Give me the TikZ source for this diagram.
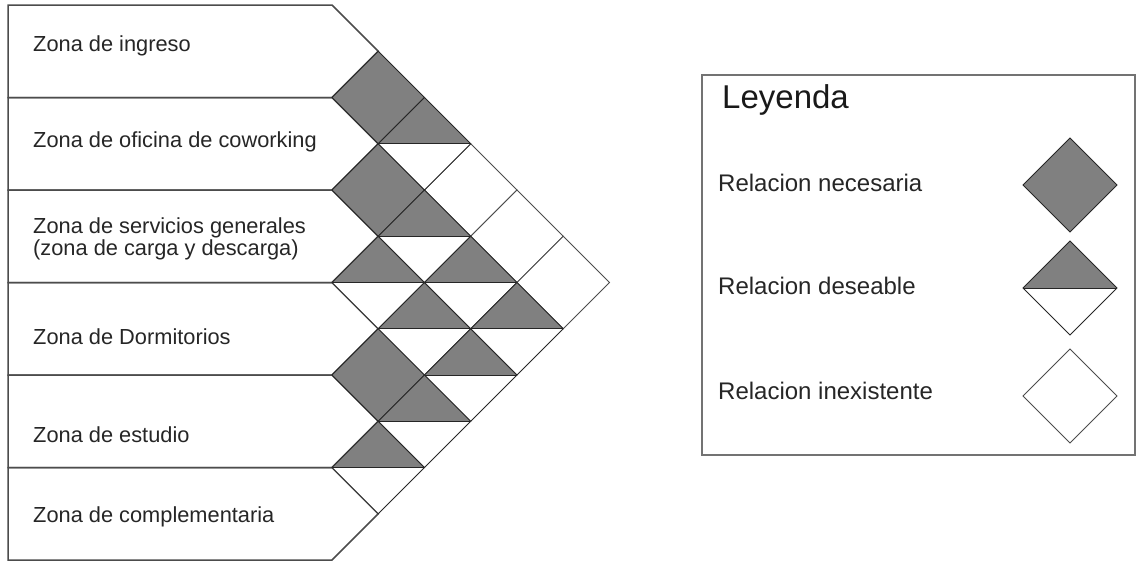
\documentclass[tikz,border=0pt]{standalone}
\usepackage{fontspec}
\setmainfont{Liberation Sans}
\usetikzlibrary{shapes.geometric}

\begin{document}
\begin{tikzpicture}[x=1pt, y=-1pt,
    zona/.style={draw=black!70, line width=1.5pt},
    rotulo/.style={anchor=west, inner sep=0pt, align=left, text=black!85,
                   font=\fontsize{21.8}{22}\selectfont},
    rotuloley/.style={anchor=west, inner sep=0pt, text=black!85,
                      font=\fontsize{24}{26}\selectfont},
    celda/.style={draw=black!85, line width=1pt, shape=diamond, inner sep=0pt,
                  outer sep=0pt, minimum width=92.5pt, minimum height=92.5pt},
    necesaria/.style={celda, fill=gray},
    deseable/.style={celda, fill=white, path picture={
        \fill[gray] (path picture bounding box.west) -- (path picture bounding box.north)
            -- (path picture bounding box.east) -- cycle;
        \draw[black!85, line width=1pt] (path picture bounding box.west)
            -- (path picture bounding box.east);}},
    inexistente/.style={celda, fill=white, draw=black!70, line width=0.8pt}]
    \useasboundingbox (0,0) rectangle (1139,563);

    % zonas
    \draw[zona] (8,5)     -- (332,5)     -- (378.25,51.25)  -- (332,97.5)  -- (8,97.5)  -- cycle;
    \draw[zona] (8,97.5)  -- (332,97.5)  -- (378.25,143.75) -- (332,190)   -- (8,190)   -- cycle;
    \draw[zona] (8,190)   -- (332,190)   -- (378.25,236.25) -- (332,282.5) -- (8,282.5) -- cycle;
    \draw[zona] (8,282.5) -- (332,282.5) -- (378.25,328.75) -- (332,375)   -- (8,375)   -- cycle;
    \draw[zona] (8,375)   -- (332,375)   -- (378.25,421.25) -- (332,467.5) -- (8,467.5) -- cycle;
    \draw[zona] (8,467.5) -- (332,467.5) -- (378.25,513.75) -- (332,560)   -- (8,560)   -- cycle;

    \node[rotulo] (ingreso)        at (33,46)  {Zona de ingreso};
    \node[rotulo] (oficina)        at (33,142) {Zona de oficina de coworking};
    \node[rotulo] (servicios)      at (33,239) {Zona de servicios generales\\(zona de carga y descarga)};
    \node[rotulo] (dormitorios)    at (33,337) {Zona de Dormitorios};
    \node[rotulo] (estudio)        at (33,435) {Zona de estudio};
    \node[rotulo] (complementaria) at (33,517) {Zona de complementaria};

    % matriz de relaciones
    \node[inexistente] (r03) at (470.75,190)    {};
    \node[inexistente] (r04) at (517,236.25)    {};
    \node[inexistente] (r05) at (563.25,282.5)  {};
    \node[necesaria]   (r01) at (378.25,97.5)   {};
    \node[necesaria]   (r12) at (378.25,190)    {};
    \node[deseable]    (r23) at (378.25,282.5)  {};
    \node[necesaria]   (r34) at (378.25,375)    {};
    \node[deseable]    (r45) at (378.25,467.5)  {};
    \node[deseable]    (r02) at (424.5,143.75)  {};
    \node[deseable]    (r13) at (424.5,236.25)  {};
    \node[deseable]    (r24) at (424.5,328.75)  {};
    \node[deseable]    (r35) at (424.5,421.25)  {};
    \node[deseable]    (r14) at (470.75,282.5)  {};
    \node[deseable]    (r25) at (470.75,375)    {};
    \node[deseable]    (r15) at (517,328.75)    {};

    % leyenda
    \draw[draw=black!55, line width=2pt] (702,75) rectangle (1135,455);
    \node[anchor=west, inner sep=0pt, text=black!90, font=\fontsize{33}{36}\selectfont]
        (leyenda) at (722,100) {Leyenda};
    \node[rotuloley] (tnec)   at (718,183) {Relacion necesaria};
    \node[rotuloley] (tdes)   at (718,286) {Relacion deseable};
    \node[rotuloley] (tinex)  at (718,391) {Relacion inexistente};
    \node[necesaria,   minimum width=94pt, minimum height=94pt] (dnec)   at (1070,185) {};
    \node[deseable,    minimum width=94pt, minimum height=94pt] (ddes)   at (1070,288) {};
    \node[inexistente, minimum width=94pt, minimum height=94pt] (dinex)  at (1070,396) {};
\end{tikzpicture}
\end{document}
